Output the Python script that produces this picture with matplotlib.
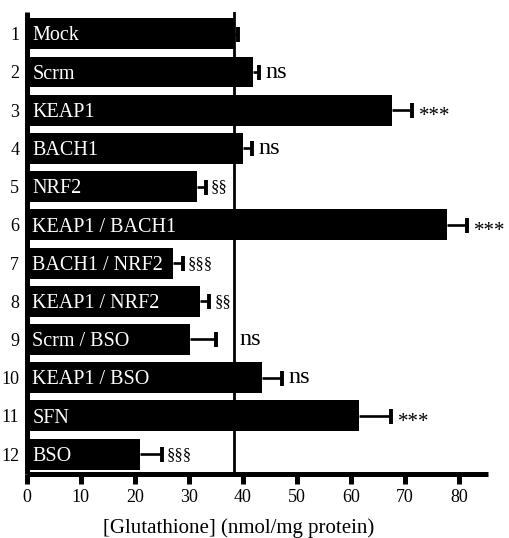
import matplotlib
matplotlib.use("Agg")
import matplotlib.pyplot as plt
import numpy as np

# ---- data ----
conditions = ["Mock", "Scrm", "KEAP1", "BACH1", "NRF2", "KEAP1 / BACH1",
              "BACH1 / NRF2", "KEAP1 / NRF2", "Scrm / BSO", "KEAP1 / BSO",
              "SFN", "BSO"]
row_numbers = ["1", "2", "3", "4", "5", "6", "7", "8", "9", "10", "11", "12"]
means = [38.6, 41.8, 67.7, 40.0, 31.6, 77.8, 27.0, 32.1, 30.2, 43.6, 61.5, 21.0]
errors = [0.5, 1.2, 3.6, 1.7, 1.6, 3.7, 1.9, 1.7, 4.9, 3.7, 6.0, 4.0]
significance = ["", "ns", "***", "ns", "§§", "***", "§§§", "§§", "ns", "ns", "***", "§§§"]
reference_level = 38.3
x_ticks = [0, 10, 20, 30, 40, 50, 60, 70, 80]
x_label = "[Glutathione] (nmol/mg protein)"

# ---- style ----
serif = ["Liberation Serif", "DejaVu Serif"]
plt.rcParams["font.family"] = serif

W, H = 510, 538
fig = plt.figure(figsize=(W / 100, H / 100), dpi=100)
ax = fig.add_axes([26.8 / W, 1 - 474 / H, (488 - 26.8) / W, (474 - 12) / H])

y = np.arange(len(conditions))
m_arr = np.array(means)
e_arr = np.array(errors)
ax.barh(y, m_arr, height=0.81, color="black", zorder=2)
# one-sided error bars (upper side only)
ax.hlines(y, m_arr, m_arr + e_arr, color="black", lw=1.9, zorder=3)
ax.plot(m_arr + e_arr, y, ls="none", marker="|", ms=10.8, mew=2.8,
        color="black", zorder=3)
ax.axvline(reference_level, color="black", lw=2.0, zorder=1)

ax.set_xlim(0, 85.4)
ax.set_ylim(11.52, -0.57)

# bar labels inside bars
for yi, name in zip(y, conditions):
    ax.annotate(name, xy=(0, yi), xytext=(4, -4.8), textcoords="offset points",
                color="white", fontsize=14.5, ha="left", va="baseline",
                family=serif, zorder=4)

# significance markers: (fontsize, x gap pt, baseline shift pt)
style = {"ns": (17.5, 4.5, -4.0), "***": (15, 5.0, -8.0),
         "§§": (12, 3.5, -3.4), "§§§": (12, 3.5, -3.4)}
marks = []
for yi, m, e, s in zip(y, means, errors, significance):
    if not s:
        continue
    fs, dx, dy = style[s]
    t = ax.annotate(s, xy=(m + e, yi), xytext=(dx, dy), textcoords="offset points",
                    fontsize=fs, ha="left", va="baseline", family=serif, zorder=4)
    marks.append((t, yi))

# push a marker past the reference line if it clearly crosses it
fig.canvas.draw()
renderer = fig.canvas.get_renderer()
line_px = ax.transData.transform((reference_level, 0))[0]
for t, yi in marks:
    bb = t.get_window_extent(renderer)
    if bb.x0 < line_px and bb.x1 > line_px + 4:
        t.xy = (reference_level, yi)

# axes styling
for side in ["top", "right"]:
    ax.spines[side].set_visible(False)
for side in ["left", "bottom"]:
    ax.spines[side].set_linewidth(3.6)
    ax.spines[side].set_capstyle("butt")

ax.set_xticks(x_ticks)
ax.set_xticklabels([str(t) for t in x_ticks])
ax.tick_params(axis="x", direction="out", length=7, width=3.6, pad=4,
               labelsize=13)
ax.set_yticks(y)
ax.set_yticklabels(row_numbers)
ax.tick_params(axis="y", length=0, pad=5.5, labelsize=13)

ax.set_xlabel(x_label, fontsize=15)
ax.xaxis.set_label_coords(0.46, -0.095)

fig.savefig("out.png", dpi=100)
